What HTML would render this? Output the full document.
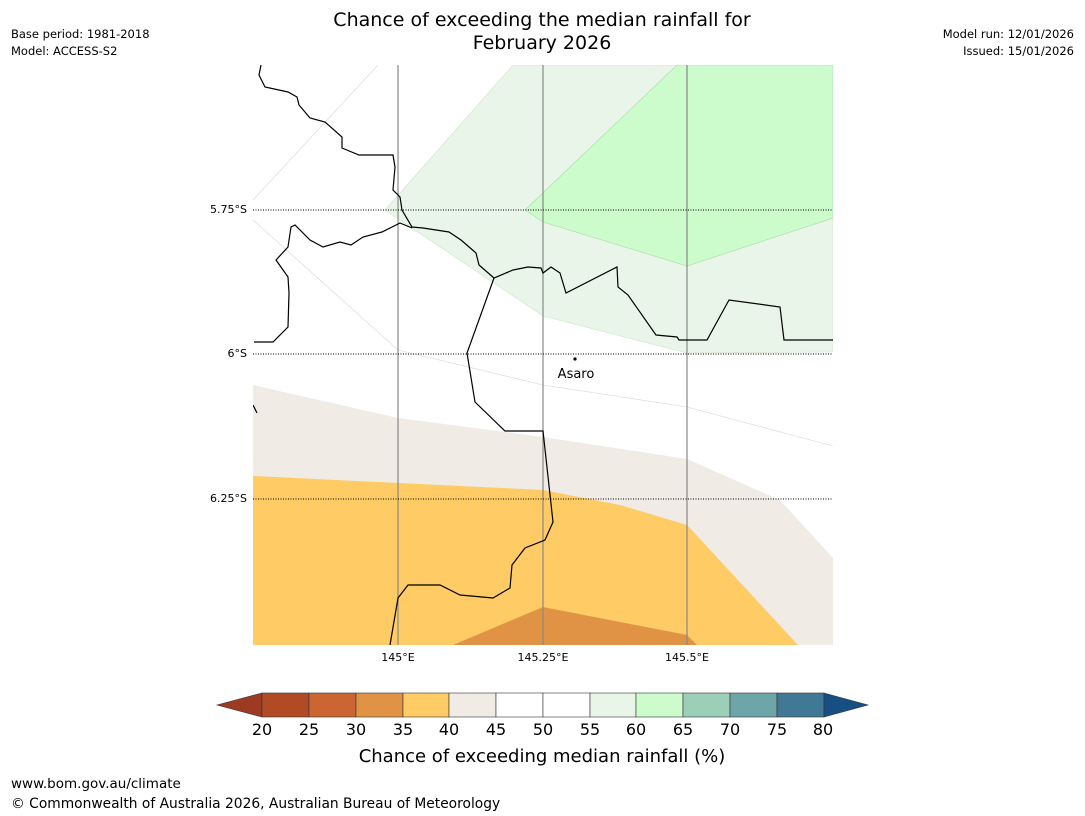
<!DOCTYPE html>
<html><head><meta charset="utf-8"><style>
body{margin:0;background:#fff;font-family:"DejaVu Sans","Liberation Sans",sans-serif;}
svg{display:block}
</style></head><body>
<svg width="1085" height="816" viewBox="0 0 1085 816">
<text x="542" y="26" font-size="19" text-anchor="middle">Chance of exceeding the median rainfall for</text>
<text x="542" y="49" font-size="19" text-anchor="middle">February 2026</text>
<text x="11" y="38" font-size="11.5">Base period: 1981-2018</text>
<text x="11" y="55" font-size="11.5">Model: ACCESS-S2</text>
<text x="1074" y="38" font-size="11.5" text-anchor="end">Model run: 12/01/2026</text>
<text x="1074" y="55" font-size="11.5" text-anchor="end">Issued: 15/01/2026</text>
<defs><clipPath id="mc"><rect x="253" y="65" width="580" height="580"/></clipPath></defs>
<g clip-path="url(#mc)">
<polygon fill="#e9f5e8" stroke="#cfe3cf" stroke-width="0.6" points="385,210 513,65 833,65 833,352 687,353 543,316"/>
<polygon fill="#ccfccc" stroke="#a8dca8" stroke-width="0.6" points="525,210 677,65 833,65 833,218 687,266 543,222"/>
<polygon fill="#f0ebe5" points="253,385 398,418 543,437 687,459 780,500 833,558 833,645 253,645"/>
<polygon fill="#fecb65" points="253,476 543,490 620,505 687,525 798,645 253,645"/>
<polygon fill="#e09345" points="453,645 543,607 687,635 697,645"/>
<g stroke="#d6d6cf" stroke-width="0.6" fill="none">
<polyline points="253,200 378,65"/>
<polyline points="253,220 398,350 543,385 687,407 833,446"/>
</g>
<g stroke="#888" stroke-width="1.2">
<line x1="398" y1="65" x2="398" y2="645"/><line x1="543" y1="65" x2="543" y2="645"/><line x1="687" y1="65" x2="687" y2="645"/>
</g>
<g stroke="#000" stroke-width="1" stroke-dasharray="1,1.5">
<line x1="253" y1="210" x2="833" y2="210"/><line x1="253" y1="354" x2="833" y2="354"/><line x1="253" y1="499" x2="833" y2="499"/>
</g>
<g fill="none" stroke="#000" stroke-width="1.2">
<polyline points="261,65 259,75 265,87 288,92 297,97 299,105 310,118 325,122 342,137 342,148 359,155 393,155 395,167 393,190 400,197 402,210 412,227 423,228 449,232 461,240 476,253 479,265 494,278 513,270 528,267 541,268 543,273 551,267 560,273 566,293 617,267 618,287 628,295 656,335 677,337 679,340 707,340 729,300 780,307 784,340 833,340"/>
<polyline points="254,342 273,342 288,327 289,293 288,277 276,260 288,247 291,227 295,225 310,240 323,247 340,242 351,245 363,237 382,232 400,223 412,228"/>
<polyline points="494,278 467,353 475,402 505,431 543,431 553,522 545,540 525,548 512,565 510,588 493,598 460,595 440,585 408,585 398,598 390,645"/>
<polyline points="253,405 257,413"/>
</g>
<circle cx="575" cy="359" r="1.6" fill="#000"/>
<text x="576" y="378" font-size="13" text-anchor="middle">Asaro</text>
</g>
<g font-size="11">
<text x="247" y="213" text-anchor="end">5.75°S</text>
<text x="247" y="357" text-anchor="end">6°S</text>
<text x="247" y="502" text-anchor="end">6.25°S</text>
<text x="398" y="661" text-anchor="middle">145°E</text>
<text x="543" y="661" text-anchor="middle">145.25°E</text>
<text x="687" y="661" text-anchor="middle">145.5°E</text>
</g>
<g stroke="#333" stroke-width="0.6">
<polygon points="217,705 262,693 262,717" fill="#9c3a22"/>
<rect x="262" y="693" width="47" height="24" fill="#b14b25"/>
<rect x="309" y="693" width="47" height="24" fill="#cb6632"/>
<rect x="356" y="693" width="47" height="24" fill="#e09345"/>
<rect x="403" y="693" width="46" height="24" fill="#fecb65"/>
<rect x="449" y="693" width="47" height="24" fill="#f0ebe5"/>
<rect x="496" y="693" width="47" height="24" fill="#fff"/>
<rect x="543" y="693" width="47" height="24" fill="#fff"/>
<rect x="590" y="693" width="46" height="24" fill="#e9f5e8"/>
<rect x="636" y="693" width="47" height="24" fill="#ccfccc"/>
<rect x="683" y="693" width="47" height="24" fill="#9ccfb8"/>
<rect x="730" y="693" width="47" height="24" fill="#6ea5a8"/>
<rect x="777" y="693" width="47" height="24" fill="#407896"/>
<polygon points="824,693 868,705 824,717" fill="#174f85"/>
</g>
<g font-size="16" text-anchor="middle">
<text x="262" y="735">20</text><text x="309" y="735">25</text><text x="356" y="735">30</text><text x="403" y="735">35</text><text x="449" y="735">40</text><text x="496" y="735">45</text><text x="543" y="735">50</text><text x="590" y="735">55</text><text x="636" y="735">60</text><text x="683" y="735">65</text><text x="730" y="735">70</text><text x="777" y="735">75</text><text x="823" y="735">80</text>
</g>
<text x="542" y="762" font-size="18" text-anchor="middle">Chance of exceeding median rainfall (%)</text>
<text x="11" y="788" font-size="13.5">www.bom.gov.au/climate</text>
<text x="11" y="808" font-size="13.8">© Commonwealth of Australia 2026, Australian Bureau of Meteorology</text>
</svg>
</body></html>
